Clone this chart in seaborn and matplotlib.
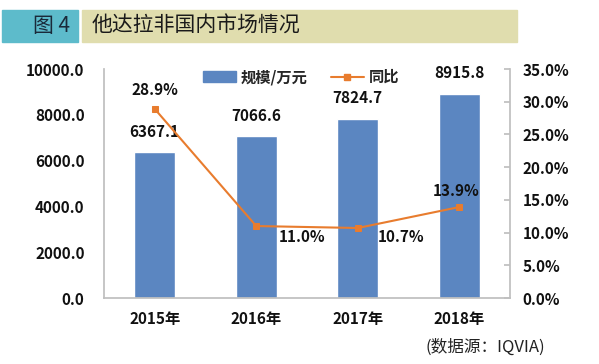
import matplotlib
matplotlib.use("Agg")
import matplotlib.pyplot as plt
import seaborn as sns
import pandas as pd
from matplotlib.patches import Rectangle
from matplotlib.lines import Line2D
from matplotlib.ticker import FuncFormatter

# Data
years = ["2015年", "2016年", "2017年", "2018年"]
scale = [6367.1, 7066.6, 7824.7, 8915.8]
growth = [28.9, 11.0, 10.7, 13.9]

df = pd.DataFrame({"year": years, "scale": scale, "growth": growth})

sns.set_theme(style="white")
plt.rcParams['font.family'] = ['Noto Sans CJK SC', 'DejaVu Sans']

blue = "#5B86C1"
orange = "#E87C2E"
grey = "#BFBFBF"

fig = plt.figure(figsize=(5.99, 3.64), dpi=100)
ax = fig.add_axes([0.1736, 0.1813, 0.6778, 0.6291])

sns.barplot(data=df, x="year", y="scale", color=blue, width=0.4,
            saturation=1, ax=ax)
ax.set_ylim(0, 10000)
ax.set_yticks(range(0, 10001, 2000))
ax.yaxis.set_major_formatter(FuncFormatter(lambda v, p: f"{v:.1f}"))
ax.set_xlabel("")
ax.set_ylabel("")
for i, v in enumerate(scale):
    ax.text(i, v + 550, f"{v:.1f}", ha="center", va="bottom",
            fontsize=11, fontweight="bold", color="#111111")

ax2 = ax.twinx()
sns.lineplot(x=range(len(years)), y=growth, color=orange, marker="s",
             markersize=5, markeredgecolor=orange, linewidth=1.5, ax=ax2)
ax2.set_ylim(0, 35)
ax2.set_yticks(range(0, 36, 5))
ax2.yaxis.set_major_formatter(FuncFormatter(lambda v, p: f"{v:.1f}%"))
ax.set_xlim(-0.5, 3.5)

# growth labels
offsets = [(0, 1.6, "center", "bottom"), (0.22, -1.7, "left", "center"),
           (0.2, -1.4, "left", "center"), (-0.03, 1.3, "center", "bottom")]
for i, g in enumerate(growth):
    dx, dy, ha, va = offsets[i]
    ax2.text(i + dx, g + dy, f"{g:.1f}%", ha=ha, va=va,
             fontsize=11, fontweight="bold", color="#111111")

for a in (ax, ax2):
    for s in a.spines.values():
        s.set_visible(False)
ax.spines["left"].set_visible(True)
ax.spines["left"].set_color(grey)
ax.spines["bottom"].set_visible(True)
ax.spines["bottom"].set_color(grey)
ax2.spines["right"].set_visible(True)
ax2.spines["right"].set_color(grey)

ax.tick_params(axis="y", length=0, labelsize=11, pad=14)
ax.tick_params(axis="x", length=0, labelsize=11, pad=9)
ax2.tick_params(axis="y", length=4, direction="in", color=grey,
                labelsize=11, pad=9)
for t in ax.get_yticklabels() + ax.get_xticklabels() + ax2.get_yticklabels():
    t.set_fontweight("bold")
    t.set_color("#111111")

handles = [Rectangle((0, 0), 1, 1, color=blue),
           Line2D([0], [0], color=orange, marker="s", markersize=4, linewidth=1.5)]
leg = ax.legend(handles, ["规模/万元", "同比"], loc="center",
                bbox_to_anchor=(0.485, 0.965), ncol=2, frameon=False,
                prop={"size": 11, "weight": "bold"}, handlelength=2.2,
                columnspacing=1.5, handletextpad=0.3, borderpad=0)

# header bar
fig.patches.append(Rectangle((2 / 599, 1 - 42 / 364), 76 / 599, 32 / 364,
                             transform=fig.transFigure, color="#5DBBCB", zorder=0))
fig.patches.append(Rectangle((82 / 599, 1 - 42 / 364), 435 / 599, 32 / 364,
                             transform=fig.transFigure, color="#E0DDAE", zorder=0))
fig.text(70 / 599, 1 - 26 / 364, "图 4", ha="right", va="center",
         fontsize=15, color="#1A2A3A")
fig.text(92 / 599, 1 - 26 / 364, "他达拉非国内市场情况", ha="left", va="center",
         fontsize=15, color="#1A1A1A")

fig.text(545 / 599, 1 - 347 / 364, "(数据源：IQVIA)", ha="right", va="center",
         fontsize=12, color="#222222")

fig.savefig("out.png", dpi=100)
